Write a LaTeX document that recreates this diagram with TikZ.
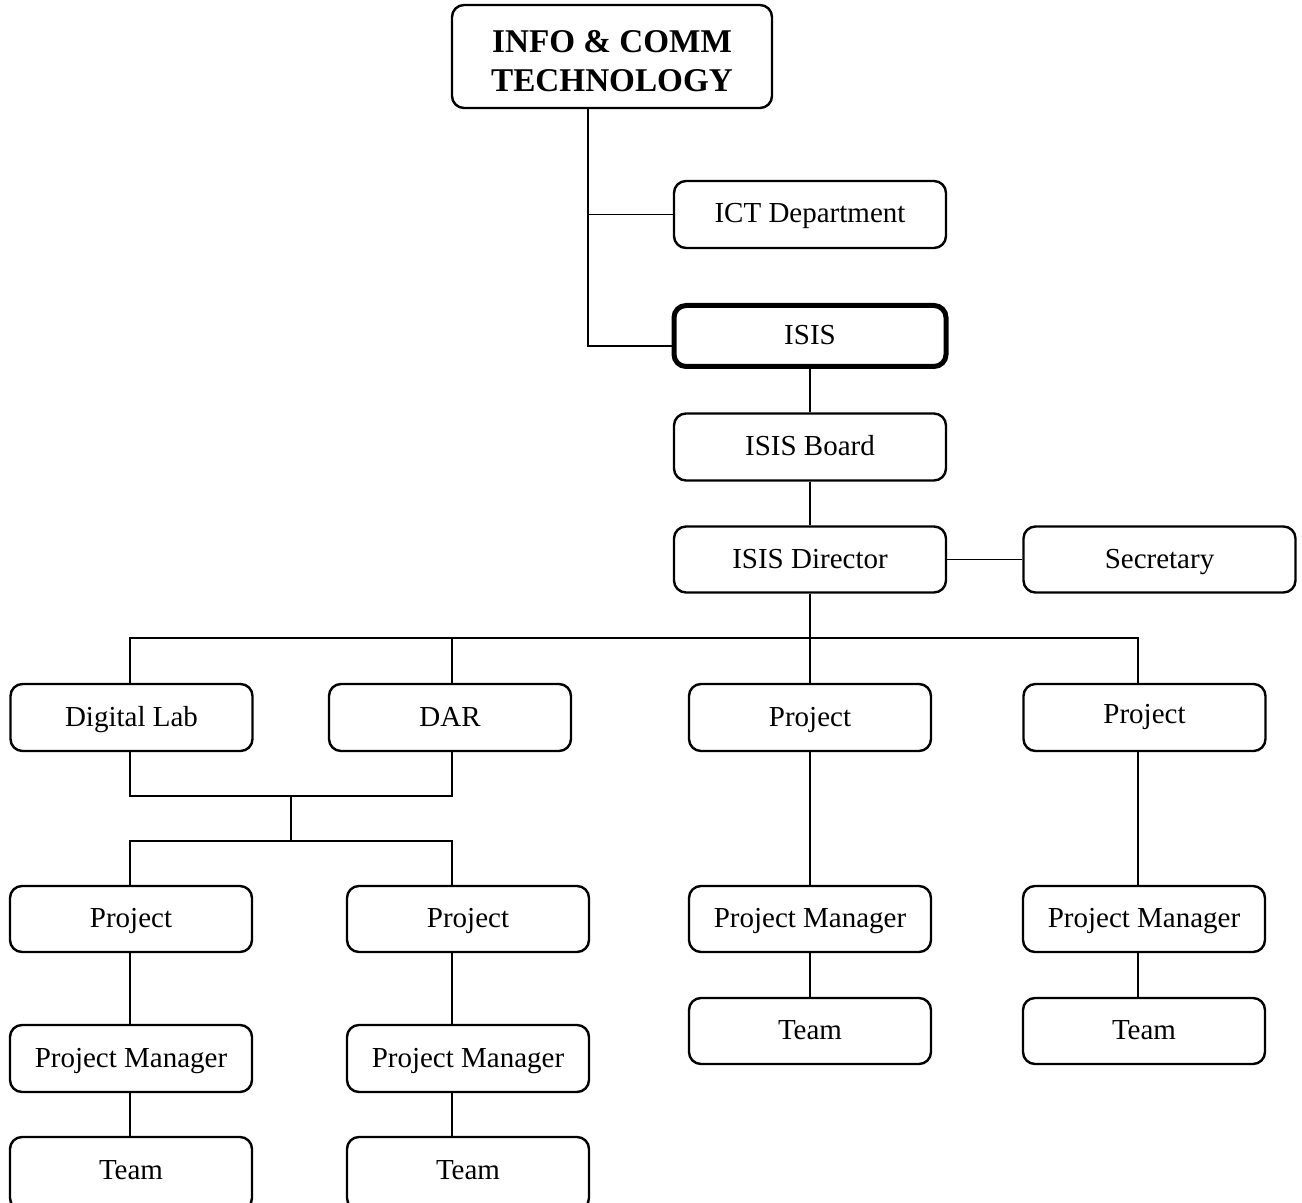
\documentclass[tikz,border=0pt]{standalone}
\usepackage{fontspec}
\setmainfont{Liberation Serif}
\begin{document}
\begin{tikzpicture}[x=0.5pt,y=-0.5pt,
  box/.style={draw, rounded corners=6pt, line width=1.2pt, minimum width=121pt,
    minimum height=33pt, inner sep=0pt, text height=11pt, text depth=2.5pt,
    font=\fontsize{14.5}{17}\selectfont},
  widebox/.style={box, minimum width=136pt, minimum height=33.5pt},
  conn/.style={line width=0.8pt}]
\clip (0,0) rectangle (1302,1203);
% nodes
\node[draw, rounded corners=6pt, line width=1.2pt, inner sep=0pt,
  minimum width=160pt, minimum height=51.5pt,
  font=\bfseries\fontsize{16.6}{19.5}\selectfont] (top) at (612,56.5)
  {\raisebox{-8pt}[20pt][20pt]{\begin{tabular}{@{}c@{}}INFO \& COMM\\TECHNOLOGY\end{tabular}}};
\node[widebox] (ict) at (810,214.5) {ICT Department};
\node[widebox, minimum height=30.5pt, line width=2.5pt] (isis) at (810,336) {ISIS};
\node[widebox] (board) at (810,447) {ISIS Board};
\node[widebox, minimum height=33pt] (dir) at (810,559.5) {ISIS Director};
\node[widebox, minimum height=33pt] (sec) at (1159.5,559.5) {Secretary};
\node[box, minimum height=33.5pt] (dl) at (131.5,717.5) {Digital Lab};
\node[box, minimum height=33.5pt] (dar) at (450,717.5) {DAR};
\node[box, minimum height=33.5pt] (p3) at (810,717.5) {Project};
\node[box, minimum height=33.5pt] (p4) at (1144.5,717.5) {\raisebox{1.5pt}{Project}};
\node[box] (pa) at (131,919) {Project};
\node[box] (pb) at (468,919) {Project};
\node[box, minimum height=33.5pt] (pma) at (131,1058.5) {Project Manager};
\node[box, minimum height=33.5pt] (pmb) at (468,1058.5) {Project Manager};
\node[box, minimum height=36.5pt] (ta) at (131,1173.5) {\raisebox{1.5pt}{Team}};
\node[box, minimum height=36.5pt] (tb) at (468,1173.5) {\raisebox{1.5pt}{Team}};
\node[box] (pm3) at (810,919) {Project Manager};
\node[box] (t3) at (810,1031) {Team};
\node[box] (pm4) at (1144,919) {Project Manager};
\node[box] (t4) at (1144,1031) {Team};
% helper coordinates
\coordinate (trunk) at (588,0);
\coordinate (yisis) at (0,346);
\coordinate (bus) at (0,638);
\coordinate (x4) at (1138,0);
\coordinate (x2) at (452,0);
\coordinate (x1) at (130,0);
\coordinate (m1) at (0,796);
\coordinate (m2) at (0,841);
\coordinate (mx) at (291,0);
% connectors
\draw[conn] (top.south -| trunk) |- (isis.west |- yisis);
\draw[conn] (trunk |- ict.west) -- (ict.west);
\draw[conn] (isis.south) -- (board.north);
\draw[conn] (board.south) -- (dir.north);
\draw[conn] (dir.east) -- (sec.west);
\draw[conn] (dir.south) -- (p3.north);
\draw[conn] (x1 |- dl.north) |- (x4 |- bus) -- (x4 |- p4.north);
\draw[conn] (x2 |- dar.north) -- (x2 |- bus);
\draw[conn] (x1 |- dl.south) |- (x2 |- m1) -- (x2 |- dar.south);
\draw[conn] (mx |- m1) -- (mx |- m2);
\draw[conn] (x1 |- pa.north) |- (x2 |- m2) -- (x2 |- pb.north);
\draw[conn] (x1 |- pa.south) -- (x1 |- pma.north);
\draw[conn] (x1 |- pma.south) -- (x1 |- ta.north);
\draw[conn] (x2 |- pb.south) -- (x2 |- pmb.north);
\draw[conn] (x2 |- pmb.south) -- (x2 |- tb.north);
\draw[conn] (p3.south) -- (pm3.north);
\draw[conn] (pm3.south) -- (t3.north);
\draw[conn] (x4 |- p4.south) -- (x4 |- pm4.north);
\draw[conn] (x4 |- pm4.south) -- (x4 |- t4.north);
\end{tikzpicture}
\end{document}
